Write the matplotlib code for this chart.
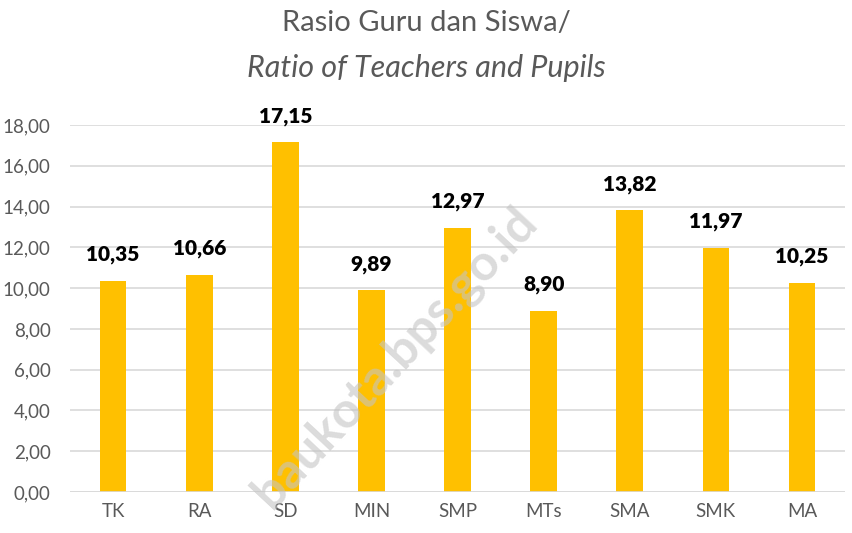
import numpy as np
import matplotlib.pyplot as plt

# data
jenjang = ["TK", "RA", "SD", "MIN", "SMP", "MTs", "SMA", "SMK", "MA"]
rasio = [10.35, 10.66, 17.15, 9.89, 12.97, 8.90, 13.82, 11.97, 10.25]
yticks = np.arange(0, 20, 2)

plt.rcParams['font.family'] = ['Lato', 'DejaVu Sans']

fig = plt.figure(figsize=(8.52, 5.33), dpi=100)
ax = fig.add_axes([0.0822, 0.0769, 0.9096, 0.6886])

x = np.arange(len(jenjang))
ax.bar(x, rasio, width=0.31, color="#FFC000", zorder=3)

for xi, v in zip(x, rasio):
	ax.annotate(("%.2f" % v).replace(".", ","), (xi, v), xytext=(0, 12),
		textcoords="offset points", ha="center", va="bottom",
		fontsize=15, fontweight="heavy", color="black", clip_on=False)

ax.set_xlim(-0.5, len(jenjang) - 0.5)
ax.set_ylim(0, 18)
ax.set_yticks(yticks)
ax.set_yticklabels([("%.2f" % t).replace(".", ",") for t in yticks])
ax.set_xticks(x)
ax.set_xticklabels(jenjang)
ax.tick_params(axis="both", length=0, colors="#595959", labelsize=13.5)
ax.tick_params(axis="x", pad=8)
ax.tick_params(axis="y", pad=14)
ax.grid(axis="y", color="#D9D9D9", linewidth=1.2, zorder=0)
ax.axhline(0, color="#D9D9D9", linewidth=1.2, zorder=4)
for s in ax.spines.values():
	s.set_visible(False)

fig.text(0.5, 0.957, "Rasio Guru dan Siswa/", ha="center", va="center",
	fontsize=21, color="#595959")
fig.text(0.5, 0.873, "Ratio of Teachers and Pupils", ha="center", va="center",
	fontsize=22, color="#595959", style="italic")

# watermark
fig.text(0.464, 0.33, "baukota.bps.go.id", ha="center", va="center",
	fontsize=36, fontweight="bold", color="#C4C4C4", alpha=0.6,
	rotation=47, zorder=10)

fig.savefig("out.png", dpi=100)
